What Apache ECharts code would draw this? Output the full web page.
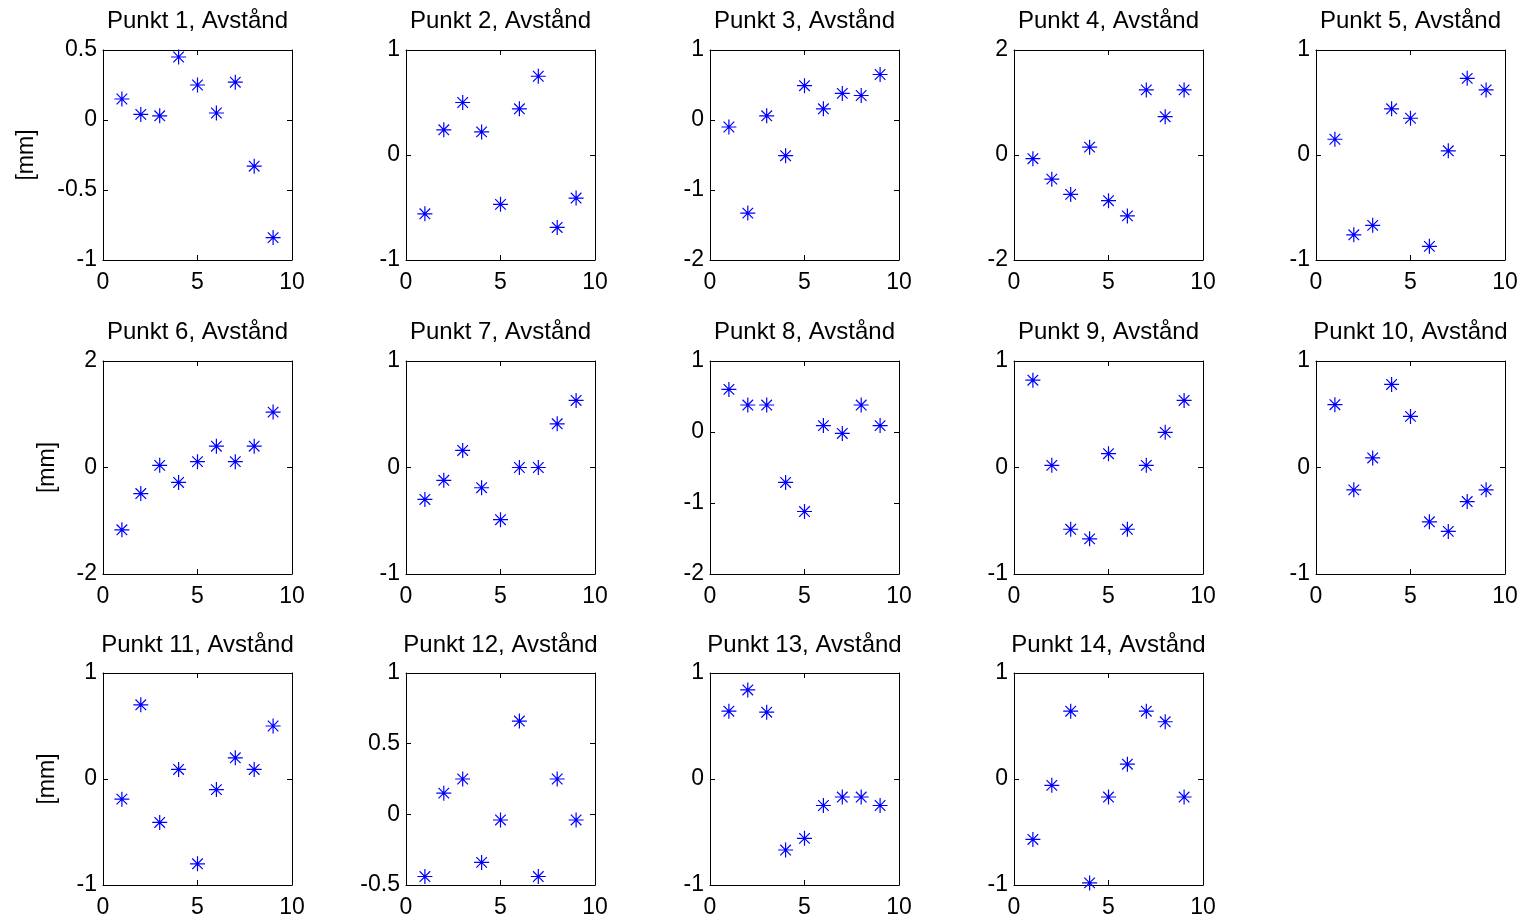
<!DOCTYPE html>
<html><head><meta charset="utf-8">
<script src="https://cdn.jsdelivr.net/npm/echarts@6/dist/echarts.min.js"></script>
<style>html,body{margin:0;padding:0;background:#fff}#c{width:1527px;height:920px}</style>
</head><body><div id="c"></div>
<script>
const xValues = [1, 2, 3, 4, 5, 6, 7, 8, 9];
const punkt1  = [0.15, 0.04, 0.03, 0.45, 0.25, 0.05, 0.27, -0.33, -0.84];
const punkt2  = [-0.56, 0.24, 0.50, 0.22, -0.47, 0.44, 0.75, -0.69, -0.41];
const punkt3  = [-0.10, -1.33, 0.06, -0.51, 0.49, 0.16, 0.38, 0.35, 0.65];
const punkt4  = [-0.07, -0.46, -0.75, 0.15, -0.87, -1.16, 1.24, 0.73, 1.24];
const punkt5  = [0.15, -0.76, -0.67, 0.44, 0.35, -0.87, 0.04, 0.73, 0.62];
const punkt6  = [-1.17, -0.49, 0.04, -0.28, 0.11, 0.40, 0.11, 0.40, 1.04];
const punkt7  = [-0.30, -0.12, 0.16, -0.19, -0.49, 0.00, 0.00, 0.41, 0.63];
const punkt8  = [0.60, 0.38, 0.38, -0.71, -1.12, 0.09, -0.02, 0.38, 0.09];
const punkt9  = [0.82, 0.02, -0.58, -0.67, 0.13, -0.58, 0.02, 0.33, 0.63];
const punkt10 = [0.59, -0.21, 0.09, 0.78, 0.48, -0.51, -0.60, -0.32, -0.21];
const punkt11 = [-0.19, 0.70, -0.41, 0.09, -0.80, -0.10, 0.20, 0.09, 0.50];
const punkt12 = [-0.44, 0.15, 0.25, -0.34, -0.04, 0.66, -0.44, 0.25, -0.04];
const punkt13 = [0.64, 0.84, 0.63, -0.67, -0.56, -0.25, -0.17, -0.17, -0.25];
const punkt14 = [-0.57, -0.06, 0.64, -0.98, -0.17, 0.14, 0.64, 0.54, -0.17];
const allPunkt = [punkt1, punkt2, punkt3, punkt4, punkt5, punkt6, punkt7, punkt8, punkt9, punkt10, punkt11, punkt12, punkt13, punkt14];
const titleTexts = allPunkt.map((_, i) => 'Punkt ' + (i + 1) + ', Avstånd');
const yMin  = [-1, -1, -2, -2, -1, -2, -1, -2, -1, -1, -1, -0.5, -1, -1];
const yMax  = [0.5, 1, 1, 2, 1, 2, 1, 1, 1, 1, 1, 1, 1, 1];
const yStep = [0.5, 1, 1, 2, 1, 2, 1, 1, 1, 1, 1, 0.5, 1, 1];
const xMin = 0, xMax = 10, xStep = 5;
const yLabel = '[mm]';

const colLeft = [103, 406, 710, 1014, 1316];
const colWidth = 189;
const rowTop = [50, 361, 673];
const rowHeight = [210, 213, 212];
const titleTop = [9, 320, 633];
const nameGapRow = [65, 44, 44];
const FONT = '"Liberation Sans", Arial, sans-serif';
const FS = 23;
const TFS = 24;
const star = 'path://M7.5,0L7.5,15M0,7.5L15,7.5M2.2,2.2L12.8,12.8M2.2,12.8L12.8,2.2';

const grid = [], xAxis = [], yAxis = [], series = [], title = [];
allPunkt.forEach((vals, i) => {
  const r = Math.floor(i / 5), c = i % 5;
  grid.push({left: colLeft[c], top: rowTop[r], width: colWidth, height: rowHeight[r], containLabel: false});
  title.push({text: titleTexts[i], left: colLeft[c] + colWidth / 2, top: titleTop[r], textAlign: 'center', padding: 0,
    textStyle: {fontFamily: FONT, fontSize: TFS, fontWeight: 'normal', color: '#000'}});
  const line = {show: true, onZero: false, lineStyle: {color: '#000', width: 1}};
  const tick = {show: true, inside: true, length: 5, lineStyle: {color: '#000', width: 1}};
  xAxis.push({gridIndex: i, type: 'value', position: 'bottom', min: xMin, max: xMax, interval: xStep,
    axisLine: line, axisTick: tick, splitLine: {show: false},
    axisLabel: {fontFamily: FONT, fontSize: FS, color: '#000', margin: 11}});
  xAxis.push({gridIndex: i, type: 'value', position: 'top', min: xMin, max: xMax, interval: xStep,
    axisLine: line, axisTick: tick, splitLine: {show: false}, axisLabel: {show: false}});
  const yl = {gridIndex: i, type: 'value', position: 'left', min: yMin[i], max: yMax[i], interval: yStep[i],
    axisLine: line, axisTick: tick, splitLine: {show: false},
    axisLabel: {fontFamily: FONT, fontSize: FS, color: '#000', margin: 6, padding: [3, 0, 0, 0]}};
  if (c === 0) {
    yl.name = yLabel; yl.nameLocation = 'middle'; yl.nameRotate = 90; yl.nameGap = nameGapRow[r];
    yl.nameTextStyle = {fontFamily: FONT, fontSize: FS, color: '#000'};
  }
  yAxis.push(yl);
  yAxis.push({gridIndex: i, type: 'value', position: 'right', min: yMin[i], max: yMax[i], interval: yStep[i],
    axisLine: line, axisTick: tick, splitLine: {show: false}, axisLabel: {show: false}});
  series.push({type: 'scatter', xAxisIndex: 2 * i, yAxisIndex: 2 * i, silent: true,
    symbol: star, symbolSize: 15,
    itemStyle: {color: 'rgba(0,0,0,0)', borderColor: '#0000ff', borderWidth: 1.2, opacity: 1},
    data: xValues.map((x, k) => [x, vals[k]])});
});

const chart = echarts.init(document.getElementById('c'), null, {renderer: 'canvas'});
chart.setOption({backgroundColor: '#fff', animation: false, title, grid, xAxis, yAxis, series});
</script></body></html>
